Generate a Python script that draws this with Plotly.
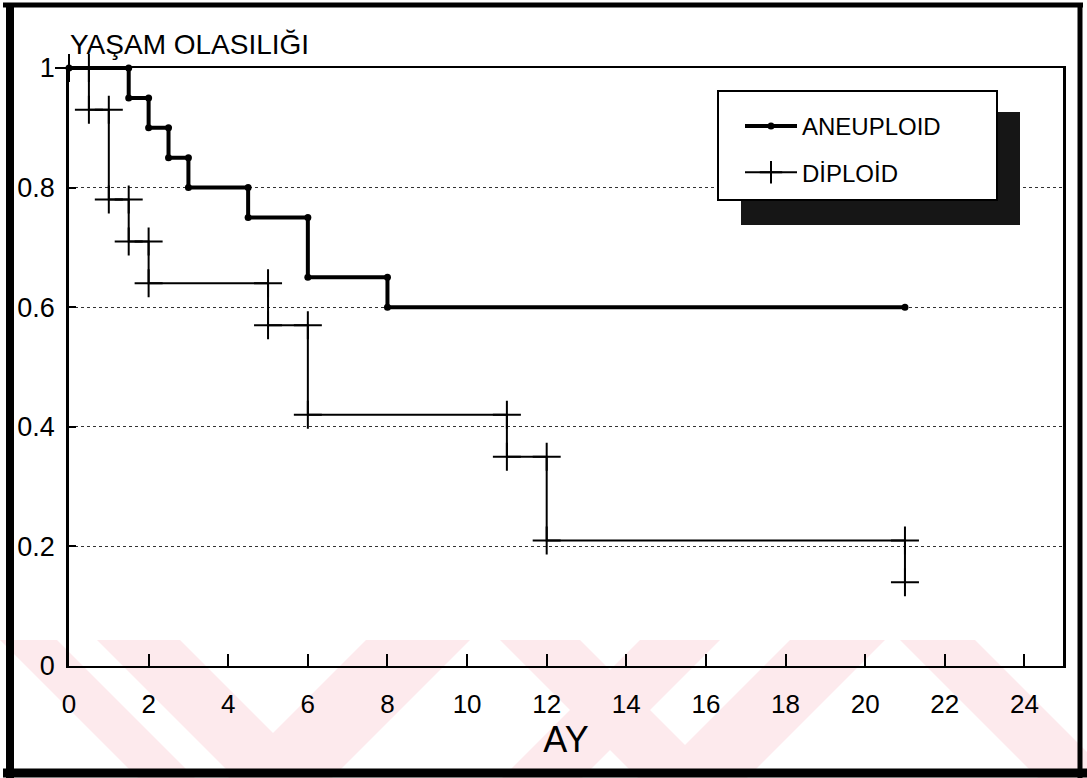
import plotly.graph_objects as go

# ---- data (Kaplan-Meier survival, months) ----
aneuploid_times = [1.5, 2, 2.5, 3, 4.5, 6, 8]
aneuploid_surv = [0.95, 0.90, 0.85, 0.80, 0.75, 0.65, 0.60]
aneuploid_last = 21

diploid_times = [0.5, 1, 1.5, 2, 5, 6, 11, 12, 21]
diploid_surv = [0.93, 0.78, 0.71, 0.64, 0.57, 0.42, 0.35, 0.21, 0.14]

x_ticks = [0, 2, 4, 6, 8, 10, 12, 14, 16, 18, 20, 22, 24]
y_ticks = [0, 0.2, 0.4, 0.6, 0.8, 1]
y_tick_text = ["0", "0.2", "0.4", "0.6", "0.8", "1"]

FONT = "Liberation Sans, Arial, sans-serif"
W, H = 1087, 778
ML, MR, MT, MB = 69, 24, 68, 112
PW, PH = W - ML - MR, H - MT - MB


def px(x):
    return (x - ML) / PW


def py(y):
    return (H - MB - y) / PH


def km_corners(times, surv, last=None):
    xs, ys, prev = [0], [1.0], 1.0
    for t, s in zip(times, surv):
        xs += [t, t]
        ys += [prev, s]
        prev = s
    if last is not None:
        xs.append(last)
        ys.append(prev)
    return xs, ys


ax, ay = km_corners(aneuploid_times, aneuploid_surv, aneuploid_last)
dx, dy = km_corners(diploid_times, diploid_surv)

fig = go.Figure()
fig.add_trace(go.Scatter(
    x=ax, y=ay, mode="lines+markers", name="ANEUPLOID", legendgroup="a",
    line=dict(color="black", width=4),
    marker=dict(symbol="circle", size=7, color="black"),
    cliponaxis=False,
))
fig.add_trace(go.Scatter(
    x=dx, y=dy, mode="lines+markers", name="DİPLOİD", legendgroup="d",
    line=dict(color="black", width=2),
    marker=dict(symbol="cross-thin", size=20, line=dict(color="black", width=2)),
    cliponaxis=False,
))

shapes = []
# faint pink watermark bands at the bottom
pink = "#fdeaed"
y_top, y_bot = 640, 778
hgt = y_bot - y_top
bands_back = [(0, 57), (97, 180), (500, 580), (900, 975)]     # "\" bands (top x range)
bands_fwd = [(366, 470), (640, 720), (790, 885)]              # "/" bands (top x range)
for a, b in bands_back:
    path = (f"M {px(a)} {py(y_top)} L {px(b)} {py(y_top)} "
            f"L {px(b + hgt)} {py(y_bot)} L {px(a + hgt)} {py(y_bot)} Z")
    shapes.append(dict(type="path", path=path, xref="paper", yref="paper",
                       fillcolor=pink, line=dict(width=0), layer="below"))
for a, b in bands_fwd:
    path = (f"M {px(a)} {py(y_top)} L {px(b)} {py(y_top)} "
            f"L {px(b - hgt)} {py(y_bot)} L {px(a - hgt)} {py(y_bot)} Z")
    shapes.append(dict(type="path", path=path, xref="paper", yref="paper",
                       fillcolor=pink, line=dict(width=0), layer="below"))

# outer frame
frame = [((3, 5), (1083, 5), 5), ((10, 3), (10, 778), 8),
         ((1080, 3), (1080, 778), 5), ((3, 773), (1087, 773), 9)]
for (x0, y0), (x1, y1), w in frame:
    shapes.append(dict(type="line", xref="paper", yref="paper",
                       x0=px(x0), y0=py(y0), x1=px(x1), y1=py(y1),
                       line=dict(color="black", width=w), layer="above"))

# legend shadow and box
shapes.append(dict(type="rect", xref="paper", yref="paper",
                   x0=px(741), y0=py(112), x1=px(1020), y1=py(225),
                   fillcolor="#161616", line=dict(width=0), layer="above"))
shapes.append(dict(type="rect", xref="paper", yref="paper",
                   x0=px(718), y0=py(91), x1=px(997), y1=py(200),
                   fillcolor="white", line=dict(color="black", width=2), layer="above"))

fig.update_layout(
    width=W, height=H,
    margin=dict(l=ML, r=MR, t=MT, b=MB, autoexpand=False),
    paper_bgcolor="white", plot_bgcolor="rgba(0,0,0,0)",
    font=dict(family=FONT, color="black"),
    title=dict(text="YAŞAM OLASILIĞI", x=px(70), xref="paper", xanchor="left",
               y=1 - 44 / H, yref="container", yanchor="middle",
               font=dict(size=28, family=FONT, color="black")),
    shapes=shapes,
    showlegend=True,
    legend=dict(x=px(740), y=py(104), xanchor="left", yanchor="top",
                xref="paper", yref="paper",
                bgcolor="rgba(0,0,0,0)", borderwidth=0,
                font=dict(size=24, family=FONT, color="black"),
                itemwidth=52, tracegroupgap=12),
    xaxis=dict(range=[0, 24.97], tickvals=x_ticks, ticks="inside", ticklen=12,
               tickwidth=2, tickcolor="black", showline=True, linecolor="black",
               linewidth=2, mirror=True, showgrid=False, zeroline=False,
               tickfont=dict(size=26, family=FONT), ticklabelstandoff=14,
               title=dict(text="AY", font=dict(size=36, family=FONT), standoff=6)),
    yaxis=dict(range=[0, 1], tickvals=y_ticks, ticktext=y_tick_text,
               ticks="inside", ticklen=7, tickwidth=1.5, tickcolor="black",
               showline=True, linecolor="black", linewidth=2.5, mirror=True,
               showgrid=True, gridcolor="#333333", gridwidth=1, griddash="dot",
               zeroline=False, tickfont=dict(size=27, family=FONT),
               ticklabelstandoff=6),
)

fig.write_html("out.html")
